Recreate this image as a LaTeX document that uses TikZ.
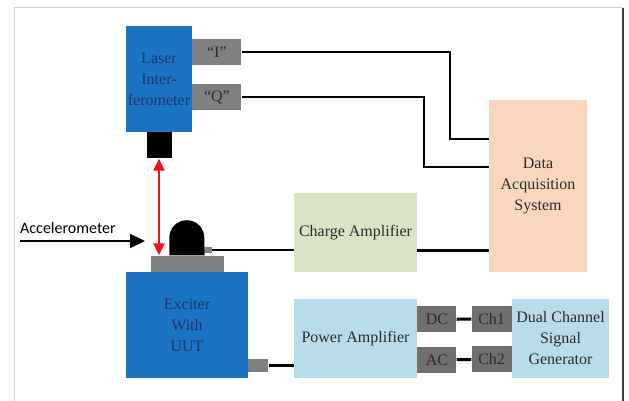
\documentclass[tikz,border=0pt]{standalone}
\usepackage{fontspec}
\setmainfont{Liberation Serif}
\newfontfamily\labelfont{Carlito}
\usepackage{xcolor}
\usepackage{tikz}
\usetikzlibrary{arrows.meta,positioning,calc}
\definecolor{devblue}{HTML}{1B74C3}
\definecolor{navytext}{HTML}{1D3566}
\definecolor{portgray}{HTML}{808080}
\definecolor{changray}{HTML}{6F6F6F}
\definecolor{peach}{HTML}{F9D6BC}
\definecolor{sage}{HTML}{D9E4C7}
\definecolor{skyblue}{HTML}{B8DCEA}
\definecolor{inkdark}{HTML}{2B2B2B}
\definecolor{redarrow}{HTML}{E8141B}
\tikzset{
  block/.style={
    inner sep=0pt,align=center,text=inkdark,
    font=\fontsize{16}{21}\selectfont
  },
  devicebox/.style={block,fill=devblue,text=navytext},
  portbox/.style={block,fill=portgray,minimum width=49pt,minimum height=26pt},
  chanbox/.style={block,fill=changray,minimum width=39pt,minimum height=26pt},
  ampbox/.style={block,fill=skyblue,minimum width=123pt,minimum height=79pt},
  wire/.style={draw=black,line width=2pt},
  thinwire/.style={draw=black,line width=1.6pt},
  thickwire/.style={draw=black,line width=3pt},
  pointer/.style={-{Triangle[length=15pt,width=14pt]},draw=black,line width=2pt},
  motion/.style={{Triangle[length=12pt,width=11pt]}-{Triangle[length=12pt,width=11pt]},
    draw=redarrow,line width=2.4pt}
}
\begin{document}
\begin{tikzpicture}[x=1pt,y=-1pt]
\useasboundingbox (0,0) rectangle (629,401);
% frame
\draw[black!18,line width=1pt] (14,401) -- (14,8) -- (623,8);
\draw[black!75,line width=1.6pt] (623,8) -- (623,401);

% interferometer
\node[devicebox,minimum width=66pt,minimum height=106pt] (laser) at (159,79)
{Laser\\Inter-\\ferometer};
\node[portbox,below right=13pt and 0pt of laser.north east,anchor=north west] (iport) {``I''};
\node[portbox,below=19pt of iport] (qport) {``Q''};
\node[fill=black,inner sep=0pt,minimum width=25pt,minimum height=26pt,below=0pt of laser] (lens) {};

% exciter and accelerometer
\node[devicebox,minimum width=122pt,minimum height=106pt] (exciter) at (187,325)
{Exciter\\With\\UUT};
\node[fill=portgray,inner sep=0pt,minimum width=73pt,minimum height=16pt,above=0pt of exciter] (plate) {};
\node[inner sep=0pt,minimum width=35pt,minimum height=35pt,above=0pt of plate] (accel) {};
\fill[black] (accel.south west) -- (accel.west) arc[start angle=180,end angle=0,radius=17.5pt]
  -- (accel.south east) -- cycle;
\node[fill=portgray,inner sep=0pt,minimum width=7pt,minimum height=6pt,
  above right=2pt and 0pt of accel.south east,anchor=south west] (cport) {};
\node[fill=portgray,inner sep=0pt,minimum width=20pt,minimum height=13pt,
  above right=6pt and 0pt of exciter.south east,anchor=south west] (econn) {};

\coordinate (accin) at (20,241);
\coordinate (accout) at (145,241);
\node[anchor=west,inner sep=0pt,font=\labelfont\fontsize{16}{19}\selectfont] (acclabel) at (20,228) {Accelerometer};
\draw[pointer] (accin) -- (accout);
\draw[motion] (lens.south) -- (lens.south |- plate.north);

% amplifiers
\node[block,fill=sage,minimum width=123pt,minimum height=79pt] (charge) at (355.5,232.5) {Charge Amplifier};
\node[ampbox,below=27pt of charge] (power) {Power Amplifier};
\node[chanbox,below right=7pt and 0pt of power.north east,anchor=north west] (dc) {DC};
\node[chanbox,below=14pt of dc] (ac) {AC};

\node[block,fill=skyblue,minimum width=97pt,minimum height=79pt] (siggen) at (560.5,338.5)
{Dual Channel\\Signal\\Generator};
\node[chanbox,minimum width=40pt,below left=7pt and 0pt of siggen.north west,anchor=north east] (ch1) {Ch1};
\node[chanbox,minimum width=40pt,below=14pt of ch1] (ch2) {Ch2};

\node[block,fill=peach,minimum width=98pt,minimum height=172pt] (daq) at (538,186)
{Data\\Acquisition\\System};

% connections
\draw[wire] (iport.east) -| ([xshift=-39pt,yshift=47pt]daq.west) -- ([yshift=47pt]daq.west);
\draw[wire] (qport.east) -| ([xshift=-65pt,yshift=19pt]daq.west) -- ([yshift=19pt]daq.west);
\draw[thinwire] (cport.east) -- (cport.east -| charge.west);
\draw[thickwire] (charge.east |- cport.east) -- (daq.west |- cport.east);
\draw[thickwire] (econn.east) -- (econn.east -| power.west);
\draw[thickwire] (dc) -- (ch1);
\draw[thickwire] (ac) -- (ch2);
\end{tikzpicture}
\end{document}
